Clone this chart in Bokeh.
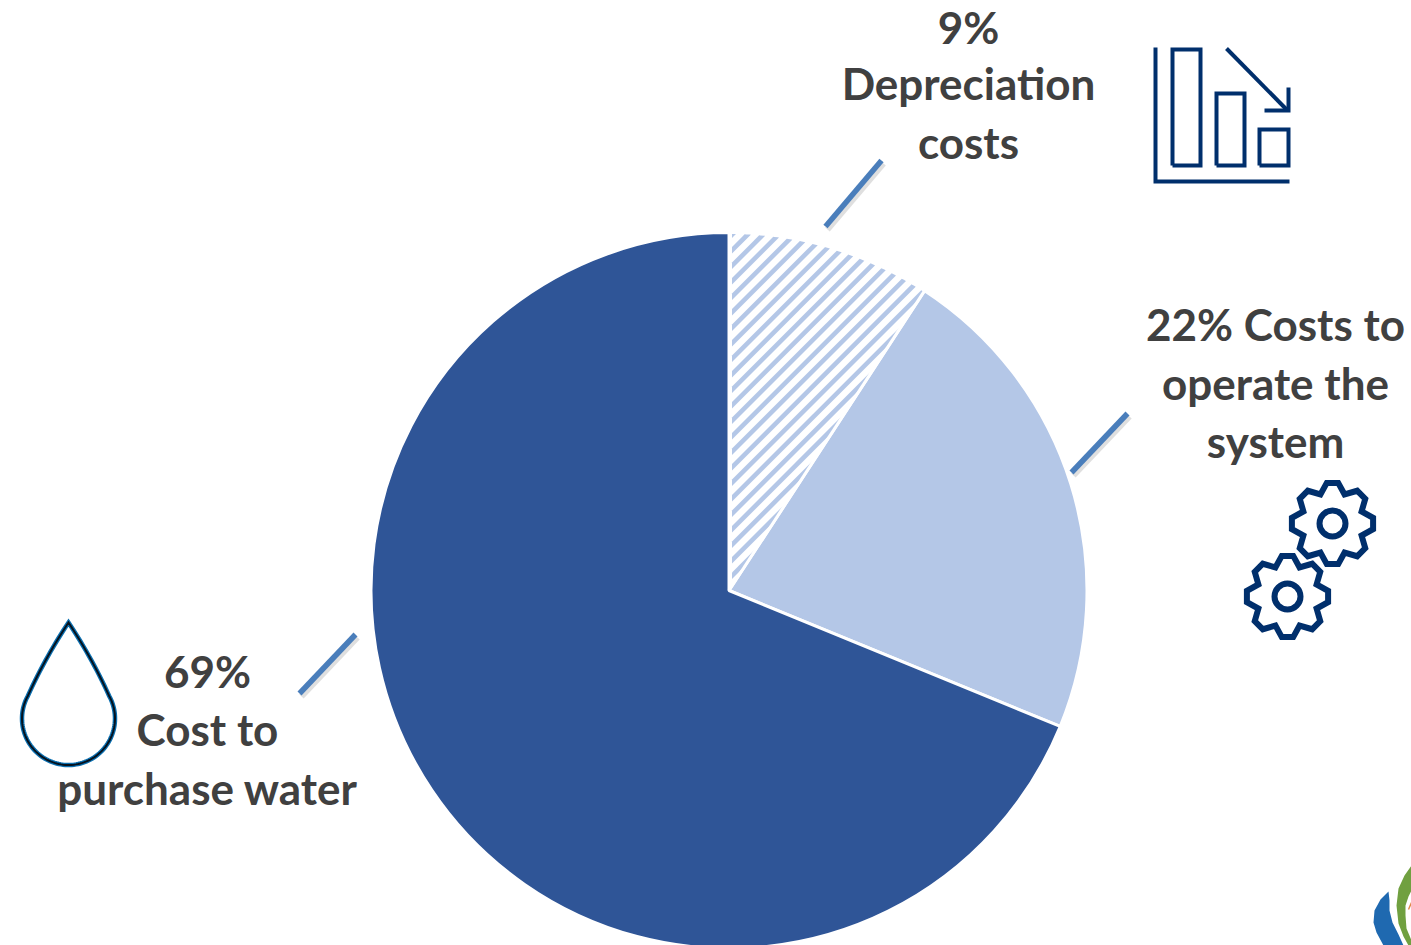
import numpy as np
from bokeh.plotting import figure
from bokeh.models import ColumnDataSource
from bokeh.core.properties import value
from bokeh.embed import file_html
from bokeh.resources import INLINE

categories = ["Depreciation costs", "Costs to operate the system", "Cost to purchase water"]
shares = [9.2, 22.0, 68.8]
label_lines = [["9%", "Depreciation", "costs"],
               ["22% Costs to", "operate the", "system"],
               ["69%", "Cost to", "purchase water"]]

W, H = 1411, 945
DARK = "#2F5597"
LIGHT = "#B4C7E7"
ICON = "#002F6C"
LEAD = "#4A7EBB"
TXT = "#404040"

def Y(v):
    return H - np.asarray(v, dtype=float)

p = figure(width=W, height=H, x_range=(0, W), y_range=(0, H),
           output_backend="svg", toolbar_location=None, min_border=0,
           background_fill_color="white", border_fill_color="white")
p.axis.visible = False
p.grid.visible = False
p.outline_line_color = None

# pie
cx, cy, r = 728.5, 590.0, 358.0
frac = np.cumsum([0] + shares) / sum(shares)
starts = np.pi / 2 - 2 * np.pi * frac[1:]
ends = np.pi / 2 - 2 * np.pi * frac[:-1]
src = ColumnDataSource(dict(cat=categories, start=starts, end=ends,
                            fill=["white", LIGHT, DARK]))
p.wedge(x=cx, y=float(Y(cy)), radius=r, start_angle="start", end_angle="end", source=src,
        fill_color="fill", line_color="white", line_width=3)

# diagonal stripes of the first slice: bands clipped to the slice outline
cyu = float(Y(cy))
arc = np.linspace(ends[0], starts[0], 60)
outline = [(cx, cyu)] + [(cx + (r - 1.5) * np.cos(a), cyu + (r - 1.5) * np.sin(a)) for a in arc]

def clip(poly, f):
    out = []
    for i in range(len(poly)):
        a, b = poly[i], poly[(i + 1) % len(poly)]
        fa, fb = f(a), f(b)
        if fa >= 0:
            out.append(a)
        if fa * fb < 0:
            t = fa / (fa - fb)
            out.append((a[0] + t * (b[0] - a[0]), a[1] + t * (b[1] - a[1])))
    return out

outline = clip(outline, lambda q: q[0] - (cx + 3.0))
period, thick = 15.5, 6.5
sx, sy = [], []
for c in np.arange(-410, 400, period):
    lo, hi = c, c + thick
    poly = clip(outline, lambda q: (q[1] - (q[0] - cx) - cyu) - lo)
    poly = clip(poly, lambda q: hi - (q[1] - (q[0] - cx) - cyu)) if poly else poly
    if len(poly) >= 3:
        sx.append([q[0] for q in poly])
        sy.append([q[1] for q in poly])
p.patches(sx, sy, fill_color=LIGHT, line_color=None)
# keep the white seam between the striped slice and its neighbour
p.line([cx, cx + r * np.cos(starts[0])], [cyu, cyu + r * np.sin(starts[0])], line_color="white", line_width=3)

# leader lines with their soft shadow
lead_x = [[825, 881], [1071, 1127], [299, 355]]
lead_y = [[226, 160], [472, 413], [693, 634]]
p.multi_line([[v + 2 for v in xx] for xx in lead_x], [list(Y(v) - 3) for v in lead_y],
             line_color="#808080", line_alpha=0.25, line_width=6)
p.multi_line(lead_x, [list(Y(v)) for v in lead_y], line_color=LEAD, line_width=5.5)

# labels
label_x = [968, 1275, 207]
label_y = [[26, 82, 141], [323, 382, 440], [670, 728, 787]]
xs, ys, ts = [], [], []
for x0, yy, ll in zip(label_x, label_y, label_lines):
    for y0, t in zip(yy, ll):
        xs.append(x0); ys.append(float(Y(y0))); ts.append(t)
p.text(xs, ys, text=ts, text_font=value("Lato"), text_font_style="bold",
       text_font_size="44px", text_color=TXT, text_align="center", text_baseline="middle")

# bar icon
ic_x = [[1155, 1155, 1289], [1172, 1172, 1200, 1200, 1172], [1216, 1216, 1244, 1244, 1216],
        [1259, 1259, 1288, 1288, 1259], [1226, 1287], [1288, 1288, 1264]]
ic_y = [[47, 181, 181], [165, 49, 49, 165, 165], [165, 93, 93, 165, 165],
        [165, 129, 129, 165, 165], [48, 110], [87, 110, 110]]
p.multi_line(ic_x, [list(Y(v)) for v in ic_y], line_color=ICON, line_width=4, line_join="miter")

# gears
def gear(c_x, c_y, teeth=8, ro=41.0, ri=31.5):
    px, py = [], []
    for k in range(teeth):
        a = np.pi / 2 + 2 * np.pi * k / teeth
        for rr, d in [(ro, -0.14), (ro, 0.14), (ri, np.pi / teeth)]:
            px.append(c_x + rr * np.cos(a + d))
            py.append(c_y + rr * np.sin(a + d))
    return px, py

for gx, gy in [(1332, 523), (1287, 596)]:
    px, py = gear(gx, gy)
    p.patch(px, list(Y(py)), fill_color=None, line_color=ICON, line_width=6, line_join="miter")
    p.circle(x=gx, y=float(Y(gy)), radius=13, fill_color=None, line_color=ICON, line_width=6)

# drop: quadratic sides from the tip, then the round belly
dx, dy, dr = 68.0, 718.0, 46.5
tip = 622.0
phi = np.arccos(dr / (dy - tip))
ang = np.linspace(phi, 2 * np.pi - phi, 90)
bx = list(dx + dr * np.sin(ang))
by = list(dy - dr * np.cos(ang))
tt = np.linspace(0, 1, 16)
ctrl_x, ctrl_y = (dx + bx[0]) / 2 + 3.0, (tip + by[0]) / 2 - 1.5
rs_x = (1 - tt) ** 2 * dx + 2 * tt * (1 - tt) * ctrl_x + tt ** 2 * bx[0]
rs_y = (1 - tt) ** 2 * tip + 2 * tt * (1 - tt) * ctrl_y + tt ** 2 * by[0]
drop_x = list(rs_x) + bx + list(2 * dx - rs_x[::-1])
drop_y = list(rs_y) + by + list(rs_y[::-1])
p.patch(drop_x, list(Y(drop_y)), fill_color="white", line_color="#0B6FB0", line_width=4.5, line_join="miter")
p.patch(drop_x, list(Y(drop_y)), fill_color=None, line_color="#05121E", line_width=2, line_join="miter")

# logo corner
p.patch([1388, 1380, 1374, 1373, 1376, 1383, 1403, 1398, 1392, 1389, 1389],
        list(Y([891, 899, 910, 922, 932, 945, 945, 934, 922, 910, 900])),
        fill_color="#1F69B0", line_color=None)
p.patch([1411, 1404, 1398, 1396, 1398, 1403, 1408, 1411, 1411, 1406, 1405, 1405, 1408, 1411],
        list(Y([865, 875, 888, 905, 923, 936, 945, 945, 940, 928, 915, 905, 896, 890])),
        fill_color="#70A040", line_color=None)
p.line([1408, 1411], list(Y([909, 902])), line_color="#E08A4A", line_width=1.5)

open("out.html", "w").write(file_html(p, INLINE))
